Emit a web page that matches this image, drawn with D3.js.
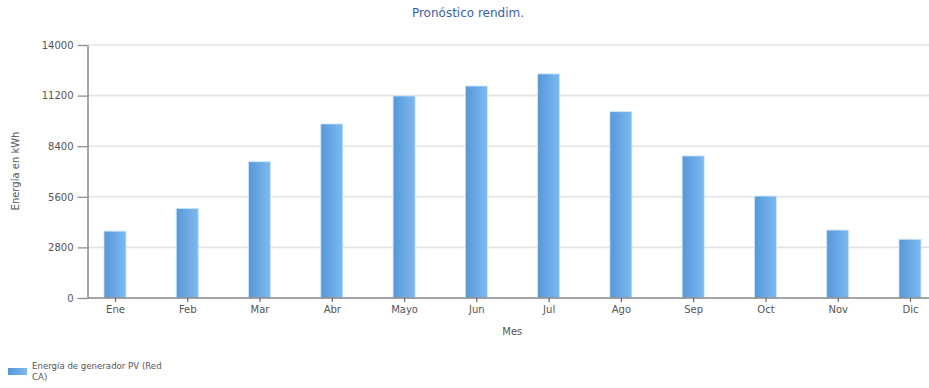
<!DOCTYPE html>
<html>
<head>
<meta charset="utf-8">
<script src="https://cdn.jsdelivr.net/npm/d3@7"></script>
<style>
  html, body { margin: 0; padding: 0; background: #fff; }
  svg { display: block; font-family: "DejaVu Sans", Verdana, sans-serif; }
</style>
</head>
<body>
<svg id="chart" width="929" height="388"></svg>
<script>
// Monthly forecast of PV generator energy (kWh)
const months = ["Ene", "Feb", "Mar", "Abr", "Mayo", "Jun", "Jul", "Ago", "Sep", "Oct", "Nov", "Dic"];
const energy = [3700, 4960, 7540, 9630, 11180, 11730, 12400, 10310, 7860, 5640, 3760, 3250];
const yTicks = [0, 2800, 5600, 8400, 11200, 14000];
const chartTitle = "Pronóstico rendim.";
const yTitle = "Energía en kWh";
const xTitle = "Mes";
const legendLines = ["Energía de generador PV (Red", "CA)"];

const svg = d3.select("#chart");
const plot = { left: 87.5, right: 929, top: 45, bottom: 298 };

const x = d3.scalePoint().domain(months).range([115, 910]);
const y = d3.scaleLinear().domain([0, 14000]).range([plot.bottom, plot.top]);
const barW = 22;

// bar fill: darker on the left, lighter on the right
const defs = svg.append("defs");
const grad = defs.append("linearGradient").attr("id", "barFill")
  .attr("x1", "0%").attr("x2", "100%").attr("y1", "0%").attr("y2", "0%");
grad.append("stop").attr("offset", "0%").attr("stop-color", "#5797d8");
grad.append("stop").attr("offset", "100%").attr("stop-color", "#7cbaf0");

// title
svg.append("text")
  .attr("x", 468).attr("y", 17)
  .attr("text-anchor", "middle")
  .attr("font-size", 12)
  .attr("fill", "#3a62a6")
  .text(chartTitle);

// horizontal grid lines
svg.append("g").selectAll("line")
  .data(yTicks.filter(d => d > 0))
  .join("line")
  .attr("x1", plot.left).attr("x2", plot.right)
  .attr("y1", d => y(d)).attr("y2", d => y(d))
  .attr("stroke", "#e4e4e4").attr("stroke-width", 1.6);

// bars
svg.append("g").selectAll("rect")
  .data(months.map((m, i) => ({ m, v: energy[i] })))
  .join("rect")
  .attr("x", d => x(d.m) - barW / 2)
  .attr("y", d => y(d.v))
  .attr("width", barW)
  .attr("height", d => y(0) - y(d.v))
  .attr("fill", "url(#barFill)")
  .attr("stroke", "#cfe6fb").attr("stroke-width", 0.8);

// y axis
const yAxis = svg.append("g")
  .attr("transform", `translate(${plot.left},0)`)
  .call(d3.axisLeft(y).tickValues(yTicks).tickFormat(d3.format("d")).tickSizeInner(10).tickSizeOuter(0).tickPadding(4));
yAxis.select(".domain").attr("stroke", "#888").attr("stroke-width", 1.5);
yAxis.selectAll(".tick line").attr("stroke", "#888").attr("stroke-width", 1.2);
yAxis.selectAll(".tick text").attr("fill", "#555").attr("font-size", 10).attr("font-family", "DejaVu Sans, sans-serif");

// x axis
const xAxis = svg.append("g")
  .attr("transform", `translate(0,${plot.bottom})`)
  .call(d3.axisBottom(x).tickSizeInner(4).tickSizeOuter(0).tickPadding(4));
xAxis.select(".domain").attr("d", `M${plot.left},0H${plot.right}`)
  .attr("stroke", "#888").attr("stroke-width", 1.5);
xAxis.selectAll(".tick line").attr("stroke", "#666").attr("stroke-width", 1.2);
xAxis.selectAll(".tick text").attr("fill", "#555").attr("font-size", 10).attr("font-family", "DejaVu Sans, sans-serif");

// axis titles
svg.append("text")
  .attr("x", (plot.left + plot.right) / 2 + 4).attr("y", 335)
  .attr("text-anchor", "middle").attr("font-size", 10).attr("fill", "#555")
  .text(xTitle);
svg.append("text")
  .attr("transform", "translate(19,171) rotate(-90)")
  .attr("text-anchor", "middle").attr("font-size", 10).attr("fill", "#555")
  .text(yTitle);

// legend
const lg = svg.append("g").attr("transform", "translate(8,368)");
lg.append("rect").attr("width", 19).attr("height", 7).attr("fill", "url(#barFill)");
lg.selectAll("text").data(legendLines).join("text")
  .attr("x", 24).attr("y", (d, i) => 1 + i * 11)
  .attr("font-size", 8.6).attr("fill", "#555")
  .text(d => d);
</script>
</body>
</html>
